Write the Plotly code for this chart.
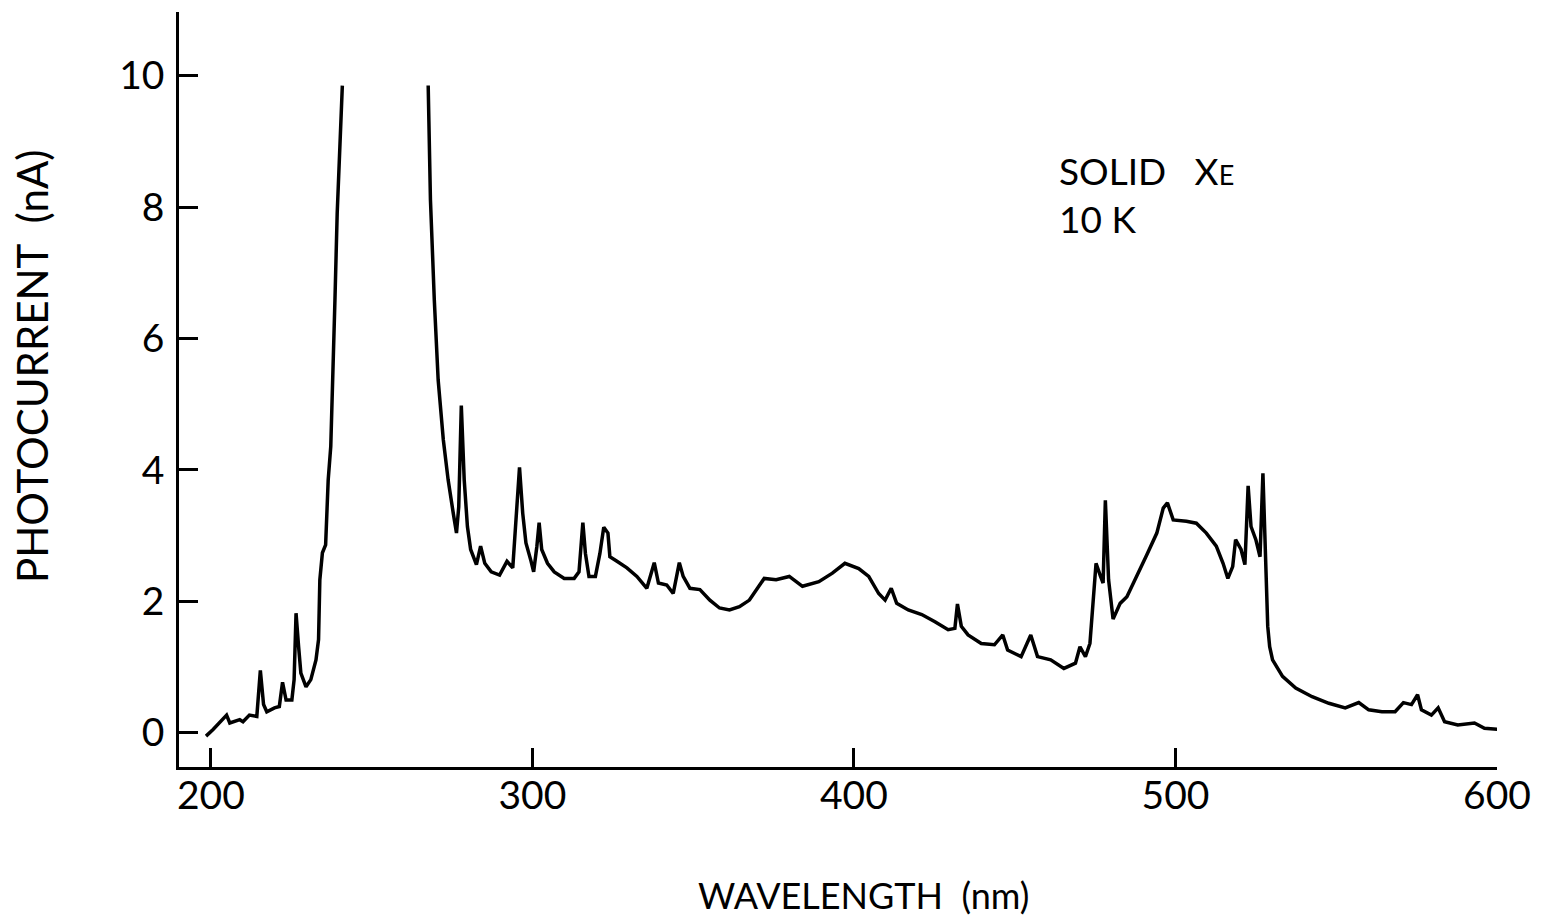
import plotly.graph_objects as go

# Photocurrent spectrum of solid xenon at 10 K (chart-recorder trace).
# The signal goes off scale between ~241 nm and ~268 nm, so the trace is broken there.
wavelength_nm = [
    198.5, 200.7, 204.9, 205.9, 209.0, 210.0, 212.0, 214.3, 215.4, 216.4,
    217.4, 219.8, 221.3, 222.3, 223.4, 225.2, 225.9, 226.5, 227.3, 228.0,
    229.6, 231.1, 232.7, 233.5, 233.9, 234.7, 235.7, 236.5, 237.3, 238.0,
    238.6, 239.3, 240.1, 240.9,
    None,
    267.6, 268.3, 269.5, 270.7, 272.3, 273.8, 275.4, 276.4, 277.1, 277.9,
    278.8, 279.8, 280.8, 282.6, 283.9, 285.2, 287.2, 289.8, 292.1, 293.9,
    294.9, 296.0, 297.0, 298.0, 299.6, 300.4, 301.4, 302.1, 302.9, 304.7,
    306.8, 309.9, 313.0, 314.5, 315.7, 316.5, 317.6, 319.6, 321.0, 322.2,
    323.5, 324.1, 326.3, 329.4, 332.5, 335.6, 337.9, 339.2, 341.8, 343.8,
    345.7, 346.9, 349.0, 352.1, 355.2, 358.2, 361.3, 364.4, 367.5, 369.6,
    372.1, 375.8, 379.9, 384.0, 389.1, 393.3, 397.2, 401.5, 404.6, 407.7,
    409.7, 411.6, 413.3, 416.9, 421.1, 425.2, 429.3, 431.4, 432.2, 433.4,
    435.5, 439.6, 443.7, 446.3, 447.8, 452.0, 455.0, 457.1, 461.2, 465.3,
    468.9, 470.3, 472.0, 473.4, 474.6, 475.3, 476.7, 477.5, 478.2, 479.2,
    480.6, 482.8, 484.9, 488.0, 491.1, 494.2, 496.2, 497.5, 499.3, 503.4,
    506.5, 509.6, 512.7, 514.8, 516.3, 517.8, 518.7, 520.4, 521.6, 522.6,
    523.5, 525.0, 526.3, 527.2, 527.9, 528.7, 529.3, 530.2, 533.3, 537.4,
    542.5, 547.7, 552.8, 557.0, 560.1, 564.2, 568.3, 570.9, 573.4, 575.3,
    576.5, 579.6, 581.7, 583.7, 587.8, 593.0, 596.1, 600.7,
]

photocurrent_nA = [
    -0.05, 0.05, 0.27, 0.15, 0.20, 0.17, 0.27, 0.25, 0.95, 0.43,
    0.32, 0.38, 0.40, 0.77, 0.50, 0.50, 0.81, 1.82, 1.31, 0.91,
    0.70, 0.81, 1.11, 1.42, 2.33, 2.74, 2.86, 3.85, 4.36, 5.37,
    6.59, 7.91, 8.77, 9.85,
    None,
    9.85, 8.11, 6.59, 5.37, 4.46, 3.85, 3.34, 3.04, 3.44, 4.98,
    3.85, 3.14, 2.79, 2.56, 2.84, 2.58, 2.45, 2.40, 2.61, 2.51,
    3.24, 4.04, 3.34, 2.89, 2.61, 2.45, 2.84, 3.20, 2.79, 2.58,
    2.45, 2.35, 2.35, 2.45, 3.20, 2.73, 2.38, 2.38, 2.73, 3.13,
    3.04, 2.68, 2.61, 2.51, 2.38, 2.20, 2.59, 2.28, 2.25, 2.12,
    2.59, 2.38, 2.20, 2.18, 2.02, 1.90, 1.87, 1.92, 2.02, 2.18,
    2.35, 2.33, 2.38, 2.23, 2.30, 2.43, 2.58, 2.50, 2.38, 2.12,
    2.02, 2.20, 1.97, 1.87, 1.80, 1.69, 1.57, 1.59, 1.96, 1.62,
    1.49, 1.36, 1.34, 1.49, 1.26, 1.16, 1.49, 1.16, 1.11, 0.98,
    1.06, 1.31, 1.16, 1.36, 2.23, 2.58, 2.38, 2.28, 3.54, 2.33,
    1.73, 1.97, 2.07, 2.38, 2.71, 3.04, 3.42, 3.50, 3.24, 3.22,
    3.19, 3.04, 2.84, 2.58, 2.35, 2.53, 2.94, 2.79, 2.56, 3.76,
    3.14, 2.94, 2.68, 3.95, 2.68, 1.62, 1.31, 1.11, 0.86, 0.68,
    0.55, 0.45, 0.38, 0.46, 0.35, 0.32, 0.32, 0.46, 0.43, 0.58,
    0.35, 0.27, 0.38, 0.17, 0.12, 0.15, 0.07, 0.05,
]

x_ticks = [200, 300, 400, 500, 600]
y_ticks = [0, 2, 4, 6, 8, 10]

FONT = "Lato"

fig = go.Figure()
fig.add_trace(go.Scatter(
    x=wavelength_nm,
    y=photocurrent_nA,
    mode="lines",
    line=dict(color="black", width=3.5),
    connectgaps=False,
    showlegend=False,
    hoverinfo="skip",
))

axis_common = dict(
    showgrid=False,
    zeroline=False,
    showline=True,
    linecolor="black",
    linewidth=2.5,
    mirror=False,
    ticks="inside",
    ticklen=19,
    tickwidth=2.5,
    tickcolor="black",
    tickfont=dict(family=FONT, size=39, color="black"),
)

fig.update_xaxes(
    range=[190.1, 600],
    tickvals=x_ticks,
    ticktext=[str(v) for v in x_ticks],
    ticklabelstandoff=-8,
    **axis_common,
)
fig.update_yaxes(
    range=[-0.52, 10.97],
    tickvals=y_ticks,
    ticktext=[str(v) for v in y_ticks],
    ticklabelstandoff=4,
    **axis_common,
)

fig.add_annotation(
    text="WAVELENGTH  (nm)",
    xref="paper", yref="paper",
    x=(868 - 179) / (1506 - 179), y=-(895 - 767) / (767 - 12),
    showarrow=False,
    font=dict(family=FONT, size=36, color="black"),
    xanchor="center", yanchor="middle",
)
fig.add_annotation(
    text="PHOTOCURRENT  (nA)",
    xref="paper", yref="paper",
    x=-(179 - 31) / (1506 - 179), y=(767 - 366) / (767 - 12),
    textangle=-90,
    showarrow=False,
    font=dict(family=FONT, size=42, color="black"),
    xanchor="center", yanchor="middle",
)
fig.add_annotation(
    text="SOLID   X<span style='font-size:27px'>E</span><br>10 K",
    xref="paper", yref="paper",
    x=(1063 - 179) / (1506 - 179), y=(767 - 146) / (767 - 12),
    showarrow=False,
    align="left",
    font=dict(family=FONT, size=37, color="black"),
    xanchor="left", yanchor="top",
)

fig.update_layout(
    width=1543,
    height=922,
    margin=dict(l=179, r=37, t=12, b=155),
    paper_bgcolor="white",
    plot_bgcolor="white",
)

fig.write_html("out.html")
